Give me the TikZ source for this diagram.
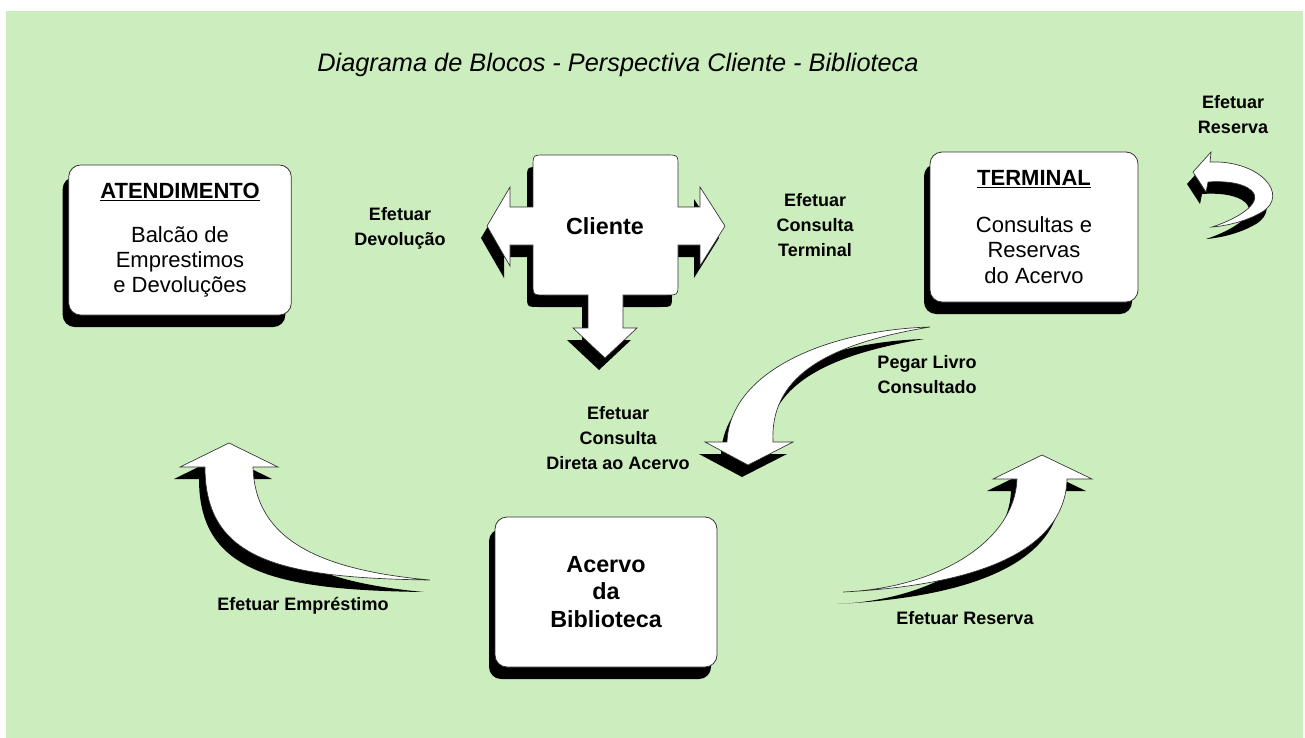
\documentclass[tikz,border=0pt]{standalone}
\usepackage{fontspec}
\setmainfont{Liberation Sans}
\usetikzlibrary{shadows}
\definecolor{bggreen}{RGB}{204,237,189}

\begin{document}
\begin{tikzpicture}[x=0.75pt,y=0.75pt,yscale=-1,xscale=1,
  blockshadow/.style={drop shadow={shadow xshift=-4.5pt,shadow yshift=-9pt,fill=black,opacity=1}},
  box/.style={draw=black!80,line width=0.6pt,fill=white,rounded corners=9pt,blockshadow,
    minimum height=112.5pt,align=center,font=\fontsize{16.5}{19}\selectfont},
  bigarrow/.style={draw=black!80,line width=0.5pt,fill=white,blockshadow},
  lbl/.style={align=center,font=\fontsize{13.5}{18.75}\selectfont\bfseries}]

\useasboundingbox (0,0) rectangle (1305,738);
\fill [bggreen] (6,11) rectangle (1303,738);

% title
\node [font=\fontsize{19}{22}\selectfont\itshape] (title) at (618,65) {Diagrama de Blocos - Perspectiva Cliente - Biblioteca};

% blocks
\node [box,minimum width=167pt] (atend) at (180,240) {\underline{\textbf{ATENDIMENTO}}\\[14pt] Balcão de\\ Emprestimos\\ e Devoluções};
\node [box,minimum width=156pt] (term) at (1034,227) {\underline{\textbf{TERMINAL}}\\[16pt] Consultas e\\ Reservas\\ do Acervo};
\node [box,minimum width=166.5pt,font=\fontsize{17.5}{20.6}\selectfont\bfseries] (acervo) at (606,592) {Acervo\\ da\\ Biblioteca};

% cliente with three arrows
\draw [bigarrow] (545,155) -- (666,155) .. controls (678,155) .. (678,167) -- (678,207) -- (700,207) -- (700,187) -- (725,226)
  -- (700,266) -- (700,245) -- (678,245) -- (678,283) .. controls (678,295) .. (666,295) -- (623,295) -- (623,328) -- (637,328)
  -- (605,358) -- (573,328) -- (588,328) -- (588,295) -- (545,295) .. controls (533,295) .. (533,283) -- (533,245) -- (510,245)
  -- (510,266) -- (487,226) -- (510,187) -- (510,207) -- (533,207) -- (533,167) .. controls (533,155) .. (545,155) -- cycle;
\node [font=\fontsize{17.5}{20}\selectfont\bfseries] (cliente) at (605,226) {Cliente};

% curved arrows
\draw [bigarrow] (930,327) .. controls (830,330) and (730,370) .. (727,442) -- (705,442) -- (748,465) -- (793,442) -- (773,442)
  .. controls (770,380) and (820,345) .. (930,327) -- cycle;
\draw [bigarrow] (430,580) .. controls (280,578) and (205,560) .. (205,467) -- (180,467) -- (229,443) -- (278,467) -- (253,467)
  .. controls (255,540) and (320,570) .. (430,580) -- cycle;
\draw [bigarrow] (843,592) .. controls (940,588) and (1015,540) .. (1017,479) -- (993,479) -- (1042,455) -- (1092,479) -- (1067,479)
  .. controls (1065,550) and (980,585) .. (843,592) -- cycle;
\draw [bigarrow] (1210,162) .. controls (1260,160) and (1290,195) .. (1262,212) .. controls (1245,222) and (1225,226) .. (1212,227)
  .. controls (1240,218) and (1268,200) .. (1248,188) .. controls (1238,182) and (1222,181) .. (1208,182) -- (1206,192)
  -- (1193,172) -- (1211,152) -- cycle;

% labels
\node [lbl] (devol) at (400,228) {Efetuar\\ Devolução};
\node [lbl] (consterm) at (815,225) {Efetuar\\ Consulta\\ Terminal};
\node [lbl] (restop) at (1233,115) {Efetuar\\ Reserva};
\node [lbl] (pegar) at (927,375) {Pegar Livro\\ Consultado};
\node [lbl] (direta) at (618,438) {Efetuar\\ Consulta\\ Direta ao Acervo};
\node [lbl] (empr) at (303,606) {Efetuar Empréstimo};
\node [lbl] (resbot) at (965,618) {Efetuar Reserva};

\end{tikzpicture}
\end{document}
